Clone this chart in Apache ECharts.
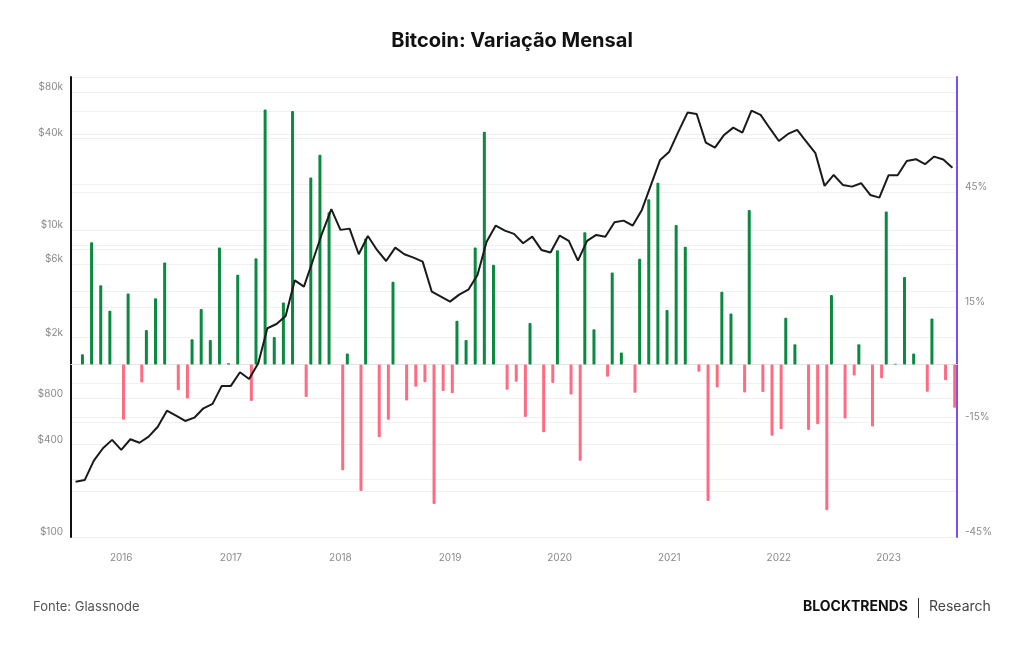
<!DOCTYPE html>
<html>
<head>
<meta charset="utf-8">
<script src="https://cdn.jsdelivr.net/npm/echarts@6/dist/echarts.min.js"></script>
<style>
  html, body { margin: 0; padding: 0; background: #fff; }
  #chart { width: 1024px; height: 645px; }
</style>
</head>
<body>
<div id="chart"></div>
<script>
// meses: ago/2015 .. ago/2023
const startYear = 2015;
const startMonth = 8;
const monthCount = 97;

// preço de fechamento mensal (USD)
const prices = [
  229, 235, 315, 379, 430,
  370, 434, 412, 451, 524, 667, 618, 571, 600, 691, 738, 967,
  967, 1186, 1073, 1359, 2298, 2449, 2764, 4720, 4290, 6410, 9600, 13750,
  10070, 10260, 6980, 9180, 7450, 6310, 7710, 6980, 6640, 6250, 3980, 3695,
  3428, 3810, 4100, 5120, 8430, 10740, 9950, 9480, 8240, 9090, 7450, 7160,
  9240, 8530, 6340, 8530, 9330, 9090, 11300, 11570, 10740, 13590, 19770, 28770,
  32600, 44000, 58600, 57400, 37300, 34640, 41880, 46740, 43360, 60440, 56640, 46350,
  38270, 42540, 45200, 37900, 31840, 19500, 22970, 19770, 19280, 20290, 17020, 16340,
  22860, 22860, 28360, 29110, 26980, 30270, 28970, 25640
];

// variação mensal (%), set/2015 .. ago/2023
const returns = [
  2.7, 31.9, 20.7, 14.0,
  -14.4, 18.5, -4.7, 9.0, 17.3, 26.6, -6.7, -8.9, 6.6, 14.5, 6.4, 30.5,
  0.3, 23.4, -9.5, 27.7, 66.5, 7.2, 16.2, 66.1, -8.5, 48.8, 54.7, 39.7,
  -27.6, 2.9, -33.0, 32.9, -19.0, -14.4, 21.6, -9.4, -5.8, -4.6, -36.4, -6.9,
  -7.5, 11.4, 6.4, 30.5, 60.7, 26.0, -6.6, -4.5, -13.7, 10.8, -17.7, -4.8,
  29.8, -7.8, -25.1, 34.5, 9.2, -3.2, 24.0, 3.1, -7.4, 27.6, 43.1, 47.4,
  14.2, 36.4, 30.7, -1.9, -35.6, -6.0, 19.0, 13.3, -7.3, 40.3, -7.2, -18.6,
  -16.9, 12.2, 5.3, -17.1, -15.6, -38.0, 18.1, -14.1, -2.9, 5.3, -16.2, -3.6,
  39.9, 0.2, 22.8, 2.9, -7.1, 12.0, -4.1, -11.3
];

const priceLabels = [100, 400, 800, 2000, 6000, 10000, 40000, 80000];
const priceGrid = [100, 200, 400, 600, 800, 1000, 2000, 4000, 6000, 8000, 10000, 20000, 40000, 60000, 80000];
const pctLabels = [-45, -15, 15, 45];

const months = [];
for (let i = 0; i < monthCount; i++) {
  const m = startMonth - 1 + i;
  const y = startYear + Math.floor(m / 12);
  const mm = (m % 12) + 1;
  months.push(y + '-' + (mm < 10 ? '0' + mm : mm));
}

// o primeiro mês só tem preço, as barras começam no segundo
const posData = ['-'].concat(returns.map(r => r >= 0 ? r : '-'));
const negData = ['-'].concat(returns.map(r => r < 0 ? r : '-'));

const isJan = (idx, val) => val.slice(5) === '01';
const font = 'Inter';

const chart = echarts.init(document.getElementById('chart'));

const option = {
  backgroundColor: '#fff',
  animation: false,
  textStyle: { fontFamily: font },
  title: {
    text: 'Bitcoin: Variação Mensal',
    left: 'center',
    top: 26,
    textStyle: { fontFamily: font, fontSize: 20, fontWeight: 'bold', color: '#111' }
  },
  grid: { left: 71, right: 67, top: 77, bottom: 108 },
  xAxis: {
    type: 'category',
    data: months,
    boundaryGap: true,
    axisLine: { lineStyle: { color: '#e3e3e3' } },
    axisTick: { alignWithLabel: true, interval: isJan, length: 8, lineStyle: { color: '#ececec' } },
    axisLabel: {
      interval: isJan,
      formatter: v => v.slice(0, 4),
      color: '#8a8a8a',
      fontSize: 10,
      margin: 16
    },
    splitLine: { show: false }
  },
  yAxis: [
    {
      type: 'log',
      logBase: 10,
      min: 100,
      max: 100000,
      position: 'left',
      axisLine: { show: true, lineStyle: { color: '#111', width: 2 } },
      axisTick: { show: false, customValues: priceGrid },
      axisLabel: {
        customValues: priceLabels,
        formatter: v => '$' + (v >= 1000 ? (v / 1000) + 'k' : v),
        color: '#8a8a8a',
        fontSize: 10,
        lineHeight: 10,
        margin: 8,
        verticalAlign: 'bottom'
      },
      splitLine: { show: true, lineStyle: { color: '#f0f0f0', width: 1 } }
    },
    {
      type: 'value',
      min: -45,
      max: 75,
      interval: 15,
      position: 'right',
      axisLine: { show: true, lineStyle: { color: '#7c4dff', width: 2 } },
      axisTick: { show: false },
      axisLabel: {
        customValues: pctLabels,
        formatter: v => v + '%',
        color: '#8a8a8a',
        fontSize: 10,
        lineHeight: 10,
        margin: 8,
        verticalAlign: 'bottom'
      },
      splitLine: { show: true, lineStyle: { color: '#f0f0f0', width: 1 } }
    }
  ],
  series: [
    {
      name: 'Alta',
      type: 'bar',
      yAxisIndex: 1,
      data: posData,
      barWidth: 3,
      barGap: '50%',
      itemStyle: { color: '#0a8a40', borderRadius: 1 },
      z: 2
    },
    {
      name: 'Queda',
      type: 'bar',
      yAxisIndex: 1,
      data: negData,
      barWidth: 3,
      barGap: '50%',
      itemStyle: { color: '#ff6b81', borderRadius: 1 },
      z: 2
    },
    {
      name: 'Preço',
      type: 'line',
      yAxisIndex: 0,
      data: prices,
      symbol: 'none',
      lineStyle: { color: '#1a1a1a', width: 2 },
      z: 5
    }
  ],
  graphic: [
    {
      type: 'text',
      left: 33,
      top: 601,
      style: { text: 'Fonte: Glassnode', fill: '#555', font: '13px Inter' }
    },
    {
      type: 'text',
      left: 803,
      top: 600,
      style: { text: 'BLOCKTRENDS', fill: '#111', font: 'bold 14px Inter' }
    },
    {
      type: 'rect',
      shape: { x: 918, y: 598, width: 1, height: 20 },
      style: { fill: '#333' }
    },
    {
      type: 'text',
      left: 929,
      top: 600,
      style: { text: 'Research', fill: '#444', font: '14px Inter' }
    }
  ]
};

chart.setOption(option);
</script>
</body>
</html>
